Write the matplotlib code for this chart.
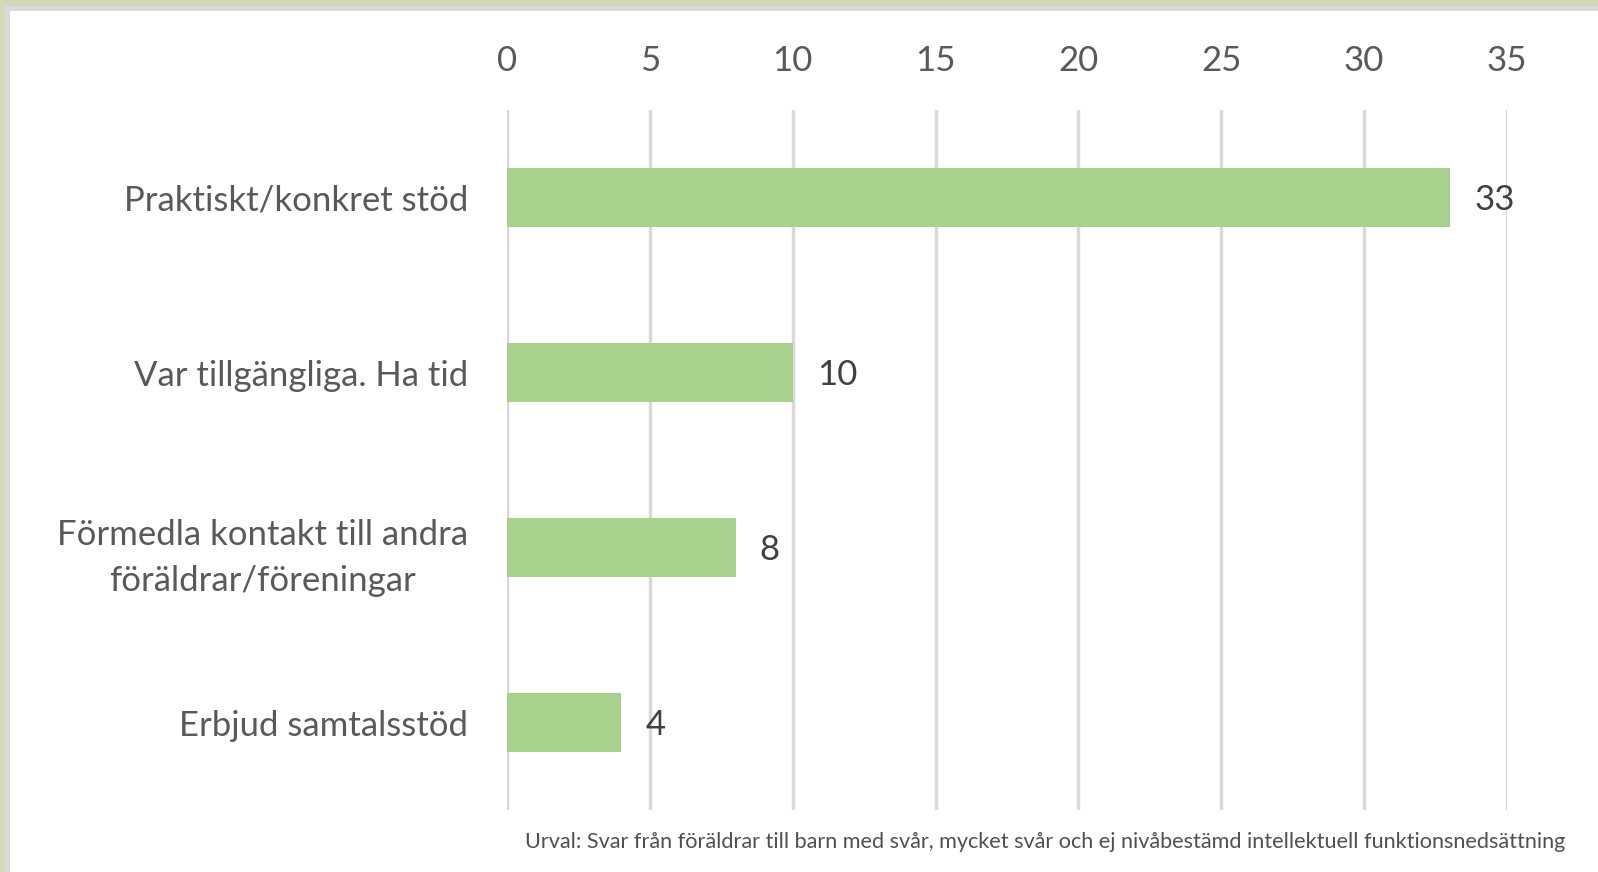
import matplotlib
matplotlib.use('Agg')
import matplotlib.pyplot as plt
from matplotlib.patches import Rectangle

categories = ['Praktiskt/konkret stöd', 'Var tillgängliga. Ha tid',
              'Förmedla kontakt till andra\nföräldrar/föreningar', 'Erbjud samtalsstöd']
values = [33, 10, 8, 4]
xticks = [0, 5, 10, 15, 20, 25, 30, 35]
note = 'Urval: Svar från föräldrar till barn med svår, mycket svår och ej nivåbestämd intellektuell funktionsnedsättning'

plt.rcParams['font.family'] = ['Lato', 'DejaVu Sans']
W, H = 1598, 872
fig = plt.figure(figsize=(W/100, H/100), dpi=100)
fig.patch.set_facecolor('#d3d8b8')
# grey shadow + white panel
fig.patches.append(Rectangle((5/W, 0), 1, 1 - 6/H, transform=fig.transFigure,
                             facecolor='#dadada', edgecolor='none', zorder=-2))
fig.patches.append(Rectangle((10/W, 0), 1, 1 - 11/H, transform=fig.transFigure,
                             facecolor='white', edgecolor='none', zorder=-1))

ax = fig.add_axes([507/W, 1 - 810/H, 1000/W, 700/H])
ax.set_zorder(1)
ax.set_facecolor('none')
y = list(range(len(categories)))
ax.barh(y, values, height=0.34, color='#a9d18e', zorder=2)
for yi, v in zip(y, values):
    ax.text(v + 0.85, yi + 0.015, str(v), va='center', ha='left', fontsize=25, color='#404040')

ax.set_xlim(0, 35)
ax.set_ylim(3.5, -0.5)
ax.set_xticks(xticks)
ax.xaxis.tick_top()
ax.tick_params(axis='x', length=0, pad=24, labelsize=25, labelcolor='#595959')
ax.set_yticks(y)
ax.set_yticklabels(categories, fontsize=25, color='#595959', linespacing=1.55)
for lab in ax.get_yticklabels():
    lab.set_multialignment('center')
ax.tick_params(axis='y', length=0, pad=28)
ax.grid(axis='x', color='#d9d9d9', linewidth=2.5, zorder=0)
for s in ax.spines.values():
    s.set_visible(False)

fig.text(1565/W, 1 - 842/H, note, ha='right', va='center', fontsize=15.6, color='#505050')

fig.savefig('out.png', dpi=100, facecolor=fig.get_facecolor())
